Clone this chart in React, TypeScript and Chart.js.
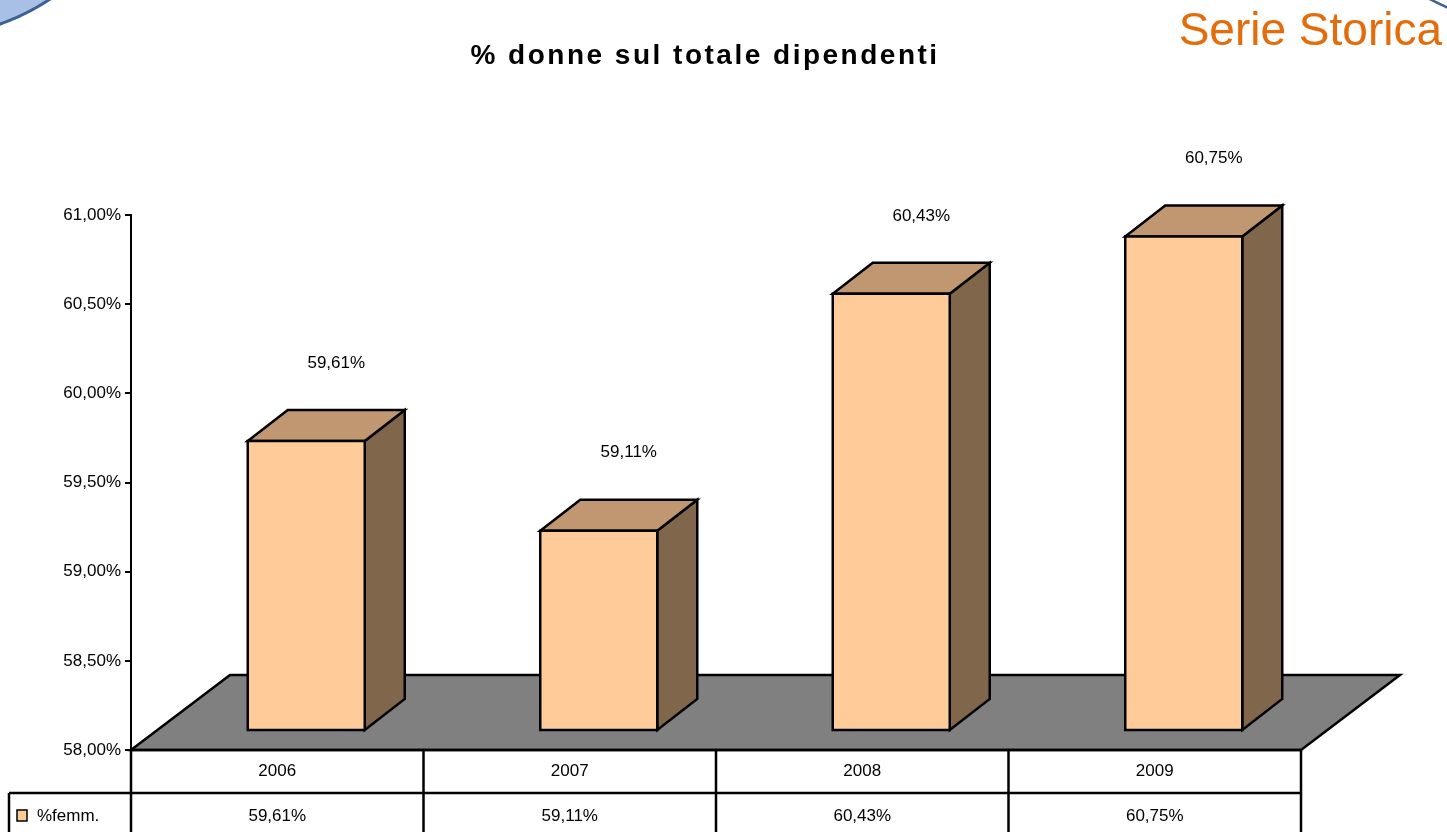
import React, { useEffect, useRef } from 'react';
import { Chart, registerables } from 'chart.js';

Chart.register(...registerables);

// ---- data ----
const categories: string[] = ['2006', '2007', '2008', '2009'];
const values: number[] = [59.61, 59.11, 60.43, 60.75];
const seriesName = '%femm.';
const yMin = 58;
const yMax = 61;
const yStep = 0.5;
const chartTitle = '% donne sul totale dipendenti';
const slideTitle = 'Serie Storica';

const FONT = '"Liberation Sans", Arial, sans-serif';
const fmt = (v: number) => v.toFixed(2).replace('.', ',') + '%';

const FRONT = '#FFCC99';
const TOP = '#C09771';
const SIDE = '#80674B';
const FLOOR = '#808080';

const poly = (ctx: CanvasRenderingContext2D, pts: number[][], fill: string, lw: number) => {
  ctx.beginPath();
  ctx.moveTo(pts[0][0], pts[0][1]);
  for (let i = 1; i < pts.length; i++) ctx.lineTo(pts[i][0], pts[i][1]);
  ctx.closePath();
  ctx.fillStyle = fill;
  ctx.fill();
  ctx.lineWidth = lw;
  ctx.strokeStyle = '#000';
  ctx.stroke();
};

const deco = {
  id: 'deco3d',
  beforeDraw(chart: any) {
    const ctx: CanvasRenderingContext2D = chart.ctx;
    ctx.save();
    ctx.fillStyle = '#fff';
    ctx.fillRect(0, 0, chart.width, chart.height);
    ctx.beginPath();
    ctx.arc(-75, -188, 225, 0, Math.PI * 2);
    ctx.fillStyle = '#A8BFE6';
    ctx.fill();
    ctx.lineWidth = 3;
    ctx.strokeStyle = '#3A6094';
    ctx.stroke();
    ctx.beginPath();
    ctx.arc(1560, -250, 281, 0, Math.PI * 2);
    ctx.lineWidth = 2.5;
    ctx.stroke();
    ctx.restore();
  },
  beforeDatasetsDraw(chart: any) {
    const ctx: CanvasRenderingContext2D = chart.ctx;
    const { left, right } = chart.chartArea;
    const yb = chart.scales.y.getPixelForValue(yMin);
    ctx.save();
    poly(ctx, [[left, yb], [right, yb], [right + 99, yb - 75], [left + 99, yb - 75]], FLOOR, 2.5);
    ctx.restore();
  },
  afterDatasetsDraw(chart: any) {
    const ctx: CanvasRenderingContext2D = chart.ctx;
    const ys = chart.scales.y;
    const yb = ys.getPixelForValue(yMin);
    const meta = chart.getDatasetMeta(0);
    ctx.save();
    ctx.lineJoin = 'miter';
    meta.data.forEach((el: any, i: number) => {
      const v = values[i];
      const cx = el.x + 29;
      const half = el.width / 2;
      const x0 = cx - half;
      const x1 = cx + half;
      const bottom = yb - 20;
      const top = bottom + (ys.getPixelForValue(v) - yb) * 1.0065;
      const dx = 40;
      const dy = -31;
      poly(ctx, [[x1, bottom], [x1, top], [x1 + dx, top + dy], [x1 + dx, bottom + dy]], SIDE, 2.5);
      poly(ctx, [[x0, top], [x1, top], [x1 + dx, top + dy], [x0 + dx, top + dy]], TOP, 2.5);
      poly(ctx, [[x0, bottom], [x1, bottom], [x1, top], [x0, top]], FRONT, 2.5);
      ctx.fillStyle = '#000';
      ctx.font = `17px ${FONT}`;
      ctx.textAlign = 'center';
      ctx.textBaseline = 'middle';
      ctx.fillText(fmt(v), cx + 30, top - 78);
    });
    ctx.restore();
  },
  afterDraw(chart: any) {
    const ctx: CanvasRenderingContext2D = chart.ctx;
    const { left, right } = chart.chartArea;
    const yb = chart.scales.y.getPixelForValue(yMin);
    const n = categories.length;
    const cw = (right - left) / n;
    const r1 = yb + 43;
    const r2 = r1 + 43;
    ctx.save();
    ctx.strokeStyle = '#000';
    ctx.lineWidth = 2.5;
    ctx.beginPath();
    ctx.moveTo(left, yb);
    ctx.lineTo(right, yb);
    ctx.moveTo(9, r1);
    ctx.lineTo(right, r1);
    ctx.moveTo(9, r2);
    ctx.lineTo(right, r2);
    ctx.moveTo(9, r1);
    ctx.lineTo(9, r2);
    for (let i = 0; i <= n; i++) {
      const x = left + i * cw;
      ctx.moveTo(x, yb);
      ctx.lineTo(x, r2);
    }
    ctx.stroke();
    ctx.fillStyle = '#000';
    ctx.font = `17px ${FONT}`;
    ctx.textAlign = 'center';
    ctx.textBaseline = 'middle';
    categories.forEach((c, i) => {
      const x = left + (i + 0.5) * cw;
      ctx.fillText(c, x, yb + 21);
      ctx.fillText(fmt(values[i]), x, r1 + 23);
    });
    // legend key
    ctx.fillStyle = FRONT;
    ctx.lineWidth = 1.5;
    ctx.fillRect(17, r1 + 17, 10, 11);
    ctx.strokeRect(17, r1 + 17, 10, 11);
    ctx.fillStyle = '#000';
    ctx.textAlign = 'left';
    ctx.fillText(seriesName, 37, r1 + 23);
    // chart title
    ctx.font = `bold 28px ${FONT}`;
    (ctx as any).letterSpacing = '2.5px';
    ctx.textAlign = 'center';
    ctx.textBaseline = 'alphabetic';
    ctx.fillText(chartTitle, 705, 64);
    (ctx as any).letterSpacing = '0px';
    // slide title
    ctx.font = `46px ${FONT}`;
    ctx.fillStyle = '#E46C0A';
    ctx.textAlign = 'right';
    ctx.fillText(slideTitle, 1442, 45);
    ctx.restore();
  },
};

export default function App() {
  const ref = useRef<HTMLCanvasElement | null>(null);
  useEffect(() => {
    if (!ref.current) return;
    const chart = new Chart(ref.current, {
      type: 'bar',
      data: {
        labels: categories,
        datasets: [
          {
            label: seriesName,
            data: values,
            backgroundColor: 'rgba(0,0,0,0)',
            borderWidth: 0,
            categoryPercentage: 1,
            barPercentage: 0.4,
          },
        ],
      },
      options: {
        responsive: false,
        animation: false,
        layout: { padding: { left: 0, top: 215, right: 146, bottom: 82 } },
        plugins: { legend: { display: false }, tooltip: { enabled: false }, title: { display: false } },
        scales: {
          x: { display: false, offset: true },
          y: {
            min: yMin,
            max: yMax,
            afterFit: (s: any) => {
              s.width = 131;
            },
            ticks: {
              stepSize: yStep,
              color: '#000',
              padding: 4,
              font: { family: FONT, size: 17 },
              callback: (v: any) => fmt(Number(v)),
            },
            grid: { drawOnChartArea: false, drawTicks: true, tickLength: 6, color: '#000', lineWidth: 2 },
            border: { display: true, color: '#000', width: 2 },
          },
        },
      },
      plugins: [deco],
    });
    return () => chart.destroy();
  }, []);
  return (
    <div style={{ position: 'fixed', left: 0, top: 0, width: 1447, height: 832, background: '#fff' }}>
      <canvas ref={ref} width={1447} height={832} />
    </div>
  );
}
